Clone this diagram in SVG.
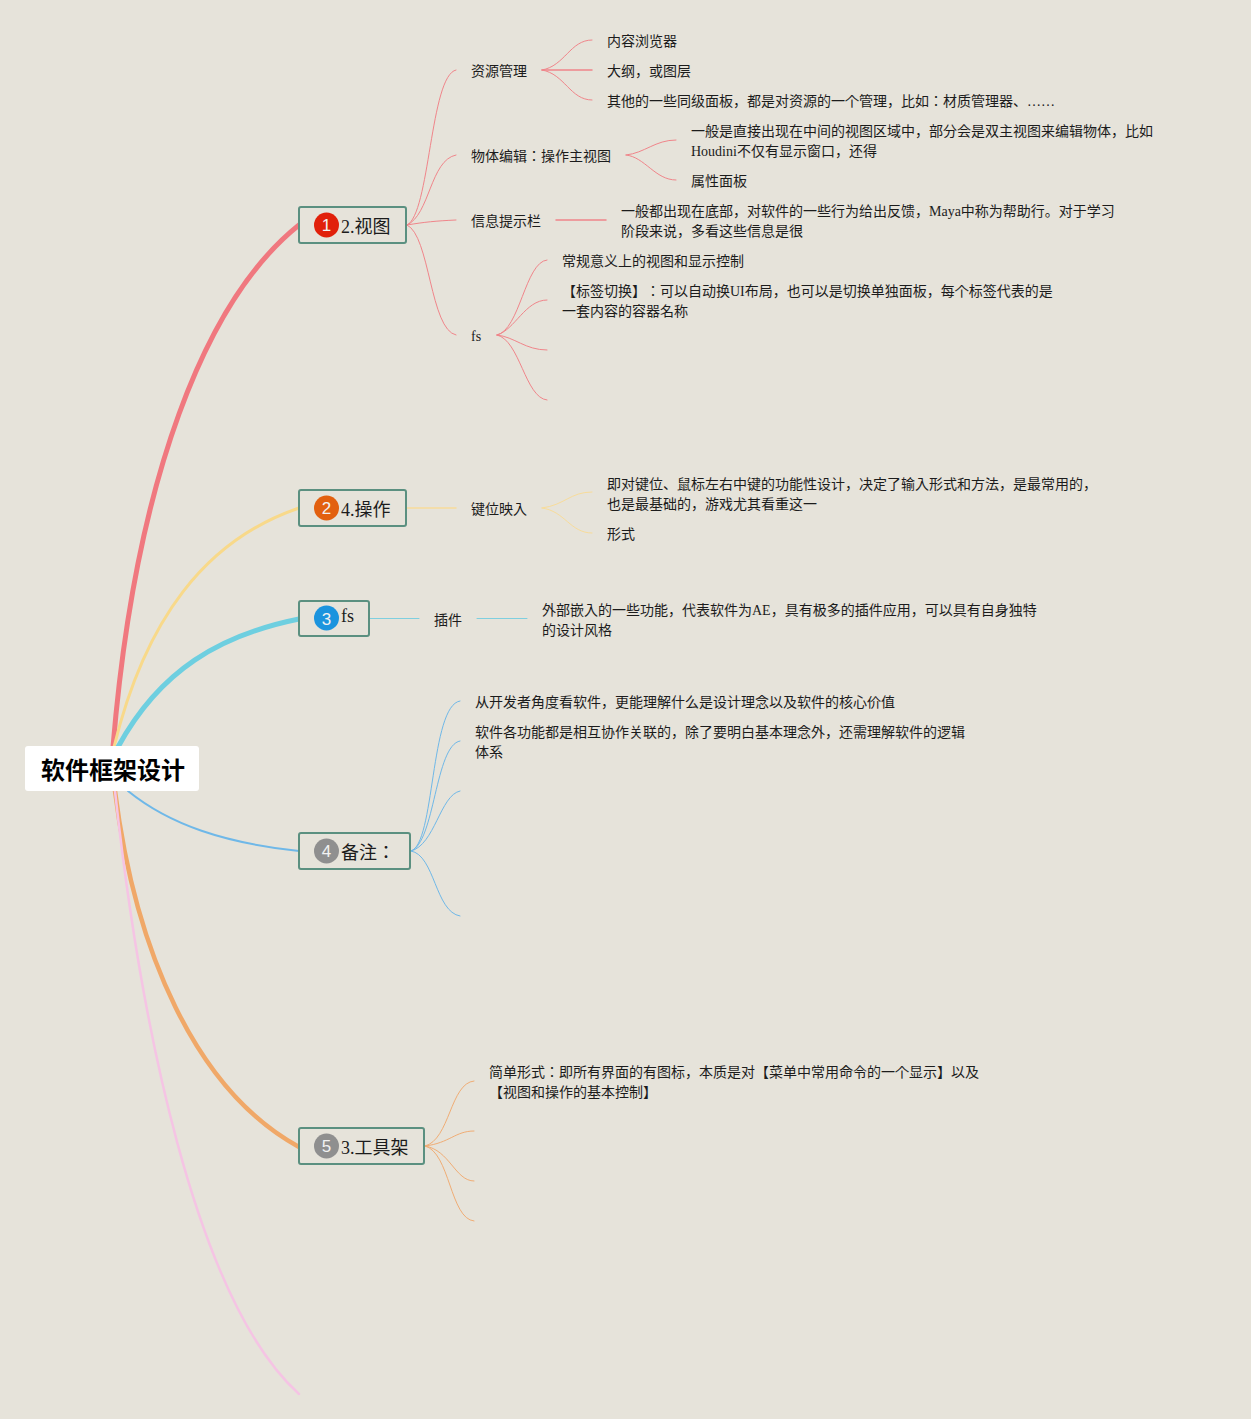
<svg xmlns="http://www.w3.org/2000/svg" width="1251" height="1419" viewBox="0 0 1251 1419">
<style>
text{font-family:"Liberation Serif","Noto Sans CJK JP",serif;fill:#1c1c1c;text-spacing-trim:space-all}
.t{font-size:14px}
.n{font-size:18px}
.c{fill:none;stroke-linecap:round}
.box{fill:#e6e3da;stroke:#5b9080;stroke-width:2}
text.num{font-family:"Liberation Sans",sans-serif;font-size:17px;fill:#f2f2f2;text-anchor:middle}
text.root{font-family:"Liberation Sans","Noto Sans CJK JP",sans-serif;font-size:24px;font-weight:700;fill:#000}
.red{stroke:#f0858a}.yel{stroke:#f8dc9a}.cya{stroke:#7fcfdf}.blu{stroke:#6fb8e8}.ora{stroke:#f0ad75}
.s{stroke-width:1}
</style>
<rect width="1251" height="1419" fill="#e6e3da"/>
<g id="connectors">
<path class="c" d="M113 747C135 480 205 300 299 225" stroke="#f0787f" stroke-width="5"/>
<path class="c" d="M114 747C145 620 205 540 299 508" stroke="#f8d98a" stroke-width="3"/>
<path class="c" d="M118 747C160 670 220 635 299 619" stroke="#6ecfe0" stroke-width="5"/>
<path class="c" d="M128 791C170 825 225 843 299 851" stroke="#6fb8e8" stroke-width="2"/>
<path class="c" d="M115 791C135 950 195 1090 299 1147" stroke="#f0a868" stroke-width="4.500"/>
<path class="c" d="M115 791C140 1020 195 1300 299 1394" stroke="#f5c4e4" stroke-width="2.500"/>
<g class="red">
<path class="c s" d="M407 225C430 215 430 75 456 70"/>
<path class="c s" d="M407 225C430 215 430 160 456 155"/>
<path class="c s" d="M407 225C425 222 435 221 456 220"/>
<path class="c s" d="M407 225C430 235 430 330 456 335"/>
<path class="c s" d="M542 70C565 66 570 40 592 40"/>
<path class="c" stroke-width="1.500" d="M542 70H592"/>
<path class="c s" d="M542 70C565 74 570 100 592 100"/>
<path class="c s" d="M626 155C645 153 655 140 676 140"/>
<path class="c s" d="M626 155C645 157 655 180 676 180"/>
<path class="c" stroke-width="1.500" d="M556 220H606"/>
<path class="c s" d="M497 335C520 330 525 262 547 260"/>
<path class="c s" d="M497 335C515 330 525 300 547 300"/>
<path class="c s" d="M497 335C515 337 525 350 547 350"/>
<path class="c s" d="M497 335C520 340 525 398 547 400"/>
</g>
<g class="yel">
<path class="c" stroke-width="1.500" d="M407 508H456"/>
<path class="c s" d="M542 508C565 505 570 492 592 492"/>
<path class="c s" d="M542 508C565 511 570 533 592 533"/>
</g>
<g class="cya">
<path class="c s" d="M370 618.500H419"/>
<path class="c s" d="M477 618.500H527"/>
</g>
<g class="blu">
<path class="c s" d="M411 851C435 845 430 705 460 701"/>
<path class="c s" d="M411 851C435 843 435 745 460 741"/>
<path class="c s" d="M411 851C435 845 440 795 460 791"/>
<path class="c s" d="M411 851C435 855 435 912 460 916"/>
</g>
<g class="ora">
<path class="c s" d="M425 1146C450 1140 450 1083 474 1081"/>
<path class="c s" d="M425 1146C450 1143 455 1131 474 1131"/>
<path class="c s" d="M425 1146C450 1150 455 1181 474 1181"/>
<path class="c s" d="M425 1146C450 1152 450 1219 474 1221"/>
</g>
</g>
<g id="root">
<rect x="25" y="746" width="174" height="45" rx="3" fill="#fff"/>
<text class="root" x="41" y="779">软件框架设计</text>
</g>
<g id="n1"><rect class="box" x="299" y="207" width="107" height="36" rx="2"/><circle cx="326.500" cy="225" r="12.500" fill="#e1200a"/><text class="num" x="326.500" y="231">1</text><text class="n" x="341" y="233">2.视图</text></g>
<g id="n2"><rect class="box" x="299" y="490" width="107" height="36" rx="2"/><circle cx="326.500" cy="508" r="12.500" fill="#e2600f"/><text class="num" x="326.500" y="514">2</text><text class="n" x="341" y="516">4.操作</text></g>
<g id="n3"><rect class="box" x="299" y="601" width="70" height="35" rx="2"/><circle cx="326.500" cy="618" r="12.500" fill="#1b94de"/><text class="num" x="326.500" y="625">3</text><text class="n" x="341" y="622">fs</text></g>
<g id="n4"><rect class="box" x="299" y="833" width="111" height="36" rx="2"/><circle cx="326.500" cy="851" r="12.500" fill="#8f8f8f"/><text class="num" x="326.500" y="857">4</text><text class="n" x="341" y="859">备注：</text></g>
<g id="n5"><rect class="box" x="299" y="1128" width="125" height="36" rx="2"/><circle cx="326.500" cy="1146" r="12.500" fill="#8f8f8f"/><text class="num" x="326.500" y="1152">5</text><text class="n" x="341" y="1154">3.工具架</text></g>
<g id="labels">
<text class="t" x="471" y="76">资源管理</text>
<text class="t" x="607" y="46">内容浏览器</text>
<text class="t" x="607" y="76">大纲，或图层</text>
<text class="t" x="607" y="106">其他的一些同级面板，都是对资源的一个管理，比如：材质管理器、……</text>
<text class="t" x="471" y="161">物体编辑：操作主视图</text>
<text class="t" x="691" y="136">一般是直接出现在中间的视图区域中，部分会是双主视图来编辑物体，比如</text>
<text class="t" x="691" y="156">Houdini不仅有显示窗口，还得</text>
<text class="t" x="691" y="186">属性面板</text>
<text class="t" x="471" y="226">信息提示栏</text>
<text class="t" x="621" y="216">一般都出现在底部，对软件的一些行为给出反馈，Maya中称为帮助行。对于学习</text>
<text class="t" x="621" y="236">阶段来说，多看这些信息是很</text>
<text class="t" x="471" y="341">fs</text>
<text class="t" x="562" y="266">常规意义上的视图和显示控制</text>
<text class="t" x="562" y="296">【标签切换】：可以自动换UI布局，也可以是切换单独面板，每个标签代表的是</text>
<text class="t" x="562" y="316">一套内容的容器名称</text>
<text class="t" x="471" y="514">键位映入</text>
<text class="t" x="607" y="489">即对键位、鼠标左右中键的功能性设计，决定了输入形式和方法，是最常用的，</text>
<text class="t" x="607" y="509">也是最基础的，游戏尤其看重这一</text>
<text class="t" x="607" y="539">形式</text>
<text class="t" x="434" y="625">插件</text>
<text class="t" x="542" y="615">外部嵌入的一些功能，代表软件为AE，具有极多的插件应用，可以具有自身独特</text>
<text class="t" x="542" y="635">的设计风格</text>
<text class="t" x="475" y="707">从开发者角度看软件，更能理解什么是设计理念以及软件的核心价值</text>
<text class="t" x="475" y="737">软件各功能都是相互协作关联的，除了要明白基本理念外，还需理解软件的逻辑</text>
<text class="t" x="475" y="757">体系</text>
<text class="t" x="489" y="1077">简单形式：即所有界面的有图标，本质是对【菜单中常用命令的一个显示】以及</text>
<text class="t" x="489" y="1097">【视图和操作的基本控制】</text>
</g>
</svg>
